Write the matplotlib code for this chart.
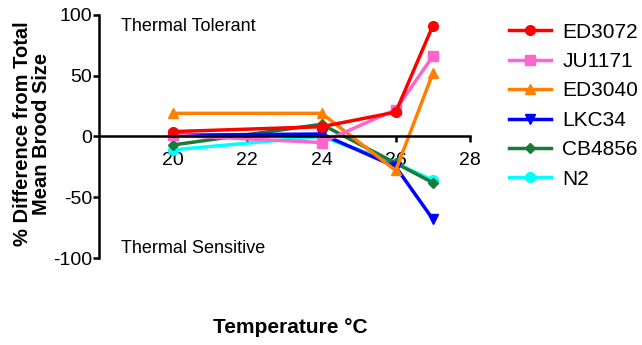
import matplotlib
matplotlib.use('Agg')
import matplotlib.pyplot as plt

plt.rcParams['font.family'] = ['Liberation Sans', 'DejaVu Sans']
plt.rcParams['axes.unicode_minus'] = False

# Data
temps = [20, 24, 26, 27]
ed3072 = [4, 8, 20, 91]
ju1171 = [1, -5, 22, 66]
ed3040 = [19, 19, -28, 52]
lkc34 = [1, 2, -25, -68]
cb4856 = [-7, 10, -22, -38]
n2 = [-11, 0, -22, -36]

series = [
    ('ED3072', ed3072, '#ff0000', 'o'),
    ('JU1171', ju1171, '#ff66cc', 's'),
    ('ED3040', ed3040, '#ff8000', '^'),
    ('LKC34', lkc34, '#0000ff', 'v'),
    ('CB4856', cb4856, '#1a7a3a', 'D'),
    ('N2', n2, '#00ffff', 'o'),
]

fig = plt.figure(figsize=(6.42, 3.45), dpi=100)
ax = fig.add_axes([0.154, 0.252, 0.578, 0.705])

# draw in reverse so ED3072 ends on top
for name, vals, color, mk in reversed(series):
    ms = 7 if mk != 'D' else 5
    ax.plot(temps, vals, color=color, marker=mk, markersize=ms, lw=2.5,
            label=name)

ax.set_xlim(18, 28)
ax.set_ylim(-100, 100)
ax.set_xticks([20, 22, 24, 26, 28])
ax.set_yticks([-100, -50, 0, 50, 100])

ax.spines['top'].set_visible(False)
ax.spines['right'].set_visible(False)
ax.spines['bottom'].set_position(('data', 0))
ax.spines['left'].set_linewidth(1.8)
ax.spines['bottom'].set_linewidth(1.8)
ax.tick_params(width=1.8, length=4, labelsize=14, direction='out')
ax.tick_params(axis='y', pad=1)
ax.tick_params(axis='x', pad=7)

ax.set_ylabel('% Difference from Total\nMean Brood Size', fontsize=14.5,
              fontweight='bold', linespacing=1.0)
ax.yaxis.set_label_coords(-0.128, 0.51)
fig.text(0.452, 0.035, 'Temperature °C', ha='center', fontsize=15,
         fontweight='bold')

ax.text(18.6, 97, 'Thermal Tolerant', fontsize=13, va='top')
ax.text(18.6, -92, 'Thermal Sensitive', fontsize=13, va='center')

handles, labels = ax.get_legend_handles_labels()
ax.legend(handles[::-1], labels[::-1], loc='upper left',
          bbox_to_anchor=(1.055, 1.045), frameon=False, fontsize=15,
          handlelength=2.0, handletextpad=0.55, labelspacing=0.5)

fig.savefig('out.png', dpi=100)
